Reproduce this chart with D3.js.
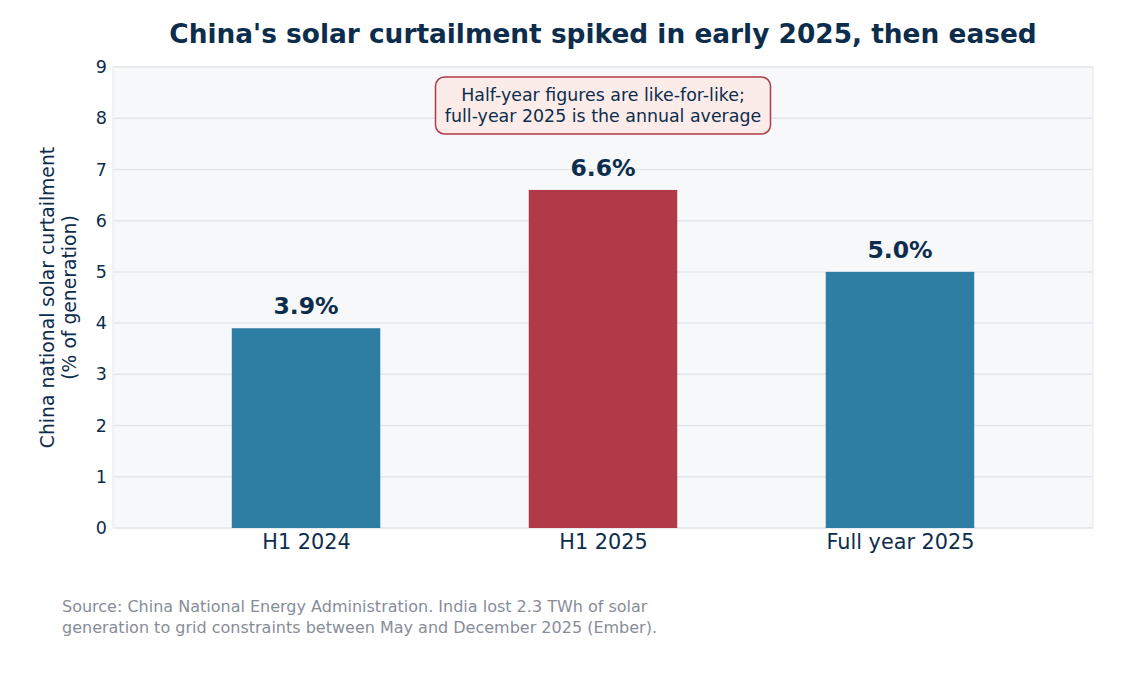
<!DOCTYPE html>
<html>
<head>
<meta charset="utf-8">
<script src="https://cdn.jsdelivr.net/npm/d3@7"></script>
<style>
  body { margin: 0; background: #fff; }
  text { font-family: "DejaVu Sans", sans-serif; }
</style>
</head>
<body>
<div id="chart"></div>
<script>
const w = 1133;
const h = 673;
const margin = { top: 67, right: 40, bottom: 145, left: 113 };

const categories = ['H1 2024', 'H1 2025', 'Full year 2025'];
const values = [3.9, 6.6, 5.0];
const barColors = ['#2e7ea3', '#b03a48', '#2e7ea3'];
const yTicks = [0, 1, 2, 3, 4, 5, 6, 7, 8, 9];

const navy = '#0d2d4c';

const svg = d3.select('#chart')
  .append('svg')
  .attr('width', w)
  .attr('height', h);

const plotW = w - margin.left - margin.right;
const plotH = h - margin.top - margin.bottom;

// category positions like a numeric axis with some slack on both sides
const xScale = d3.scaleLinear()
  .domain([-0.65, categories.length - 1 + 0.65])
  .range([margin.left, margin.left + plotW]);

const yScale = d3.scaleLinear()
  .domain([0, 9])
  .range([margin.top + plotH, margin.top]);

const barW = xScale(0.5) - xScale(0);

// plot background
svg.append('rect')
  .attr('x', margin.left)
  .attr('y', margin.top)
  .attr('width', plotW)
  .attr('height', plotH)
  .attr('fill', '#f7f8fa')
  .attr('stroke', '#e3e7ec')
  .attr('stroke-width', 1);

// grid
svg.append('g')
  .selectAll('line')
  .data(yTicks)
  .enter()
  .append('line')
  .attr('x1', margin.left)
  .attr('x2', margin.left + plotW)
  .attr('y1', d => yScale(d))
  .attr('y2', d => yScale(d))
  .attr('stroke', '#e3e7ec')
  .attr('stroke-width', 1.5);

// bars
svg.selectAll('rect.bar')
  .data(values)
  .enter()
  .append('rect')
  .attr('class', 'bar')
  .attr('x', (d, i) => xScale(i) - barW / 2)
  .attr('y', d => yScale(d))
  .attr('width', barW)
  .attr('height', d => yScale(0) - yScale(d))
  .attr('fill', (d, i) => barColors[i]);

// value labels
svg.selectAll('text.val')
  .data(values)
  .enter()
  .append('text')
  .attr('class', 'val')
  .attr('x', (d, i) => xScale(i))
  .attr('y', d => yScale(d) - 14)
  .attr('text-anchor', 'middle')
  .attr('font-size', '23.5px')
  .attr('font-weight', 'bold')
  .attr('fill', navy)
  .text(d => d.toFixed(1) + '%');

// y axis
const yAxis = d3.axisLeft(yScale)
  .tickValues(yTicks)
  .tickSize(0)
  .tickPadding(6);

svg.append('g')
  .attr('transform', 'translate(' + margin.left + ',0)')
  .call(yAxis)
  .call(g => g.select('.domain').remove())
  .selectAll('text')
  .attr('font-size', '17.5px')
  .attr('fill', navy)
  .attr('font-family', '"DejaVu Sans", sans-serif');

// x axis
const xAxis = d3.axisBottom(xScale)
  .tickValues(d3.range(categories.length))
  .tickFormat(i => categories[i])
  .tickSize(0)
  .tickPadding(6);

svg.append('g')
  .attr('transform', 'translate(0,' + (margin.top + plotH) + ')')
  .call(xAxis)
  .call(g => g.select('.domain').remove())
  .selectAll('text')
  .attr('font-size', '20.8px')
  .attr('fill', navy)
  .attr('font-family', '"DejaVu Sans", sans-serif');

// y label
svg.append('text')
  .attr('transform', 'translate(54,' + (margin.top + plotH / 2) + ') rotate(-90)')
  .attr('text-anchor', 'middle')
  .attr('font-size', '18.75px')
  .attr('fill', navy)
  .selectAll('tspan')
  .data(['China national solar curtailment', '(% of generation)'])
  .enter()
  .append('tspan')
  .attr('x', 0)
  .attr('dy', (d, i) => i === 0 ? 0 : '1.15em')
  .text(d => d);

// title
svg.append('text')
  .attr('x', margin.left + plotW / 2)
  .attr('y', 43)
  .attr('text-anchor', 'middle')
  .attr('font-size', '26.4px')
  .attr('font-weight', 'bold')
  .attr('fill', navy)
  .text("China's solar curtailment spiked in early 2025, then eased");

// annotation box
const note = ['Half-year figures are like-for-like;', 'full-year 2025 is the annual average'];
const noteX = xScale(1);
const boxW = 335;
const boxH = 57;
const boxY = 77;
svg.append('rect')
  .attr('x', noteX - boxW / 2)
  .attr('y', boxY)
  .attr('width', boxW)
  .attr('height', boxH)
  .attr('rx', 9)
  .attr('fill', '#fbecea')
  .attr('stroke', '#b03a48')
  .attr('stroke-width', 1.5);

svg.append('text')
  .attr('text-anchor', 'middle')
  .attr('font-size', '17.4px')
  .attr('fill', navy)
  .selectAll('tspan')
  .data(note)
  .enter()
  .append('tspan')
  .attr('x', noteX)
  .attr('y', (d, i) => boxY + 24 + i * 21)
  .text(d => d);

// source footnote
svg.append('text')
  .attr('font-size', '16px')
  .attr('fill', '#878d98')
  .selectAll('tspan')
  .data(['Source: China National Energy Administration. India lost 2.3 TWh of solar',
         'generation to grid constraints between May and December 2025 (Ember).'])
  .enter()
  .append('tspan')
  .attr('x', 62)
  .attr('y', (d, i) => 612 + i * 21)
  .text(d => d);
</script>
</body>
</html>
